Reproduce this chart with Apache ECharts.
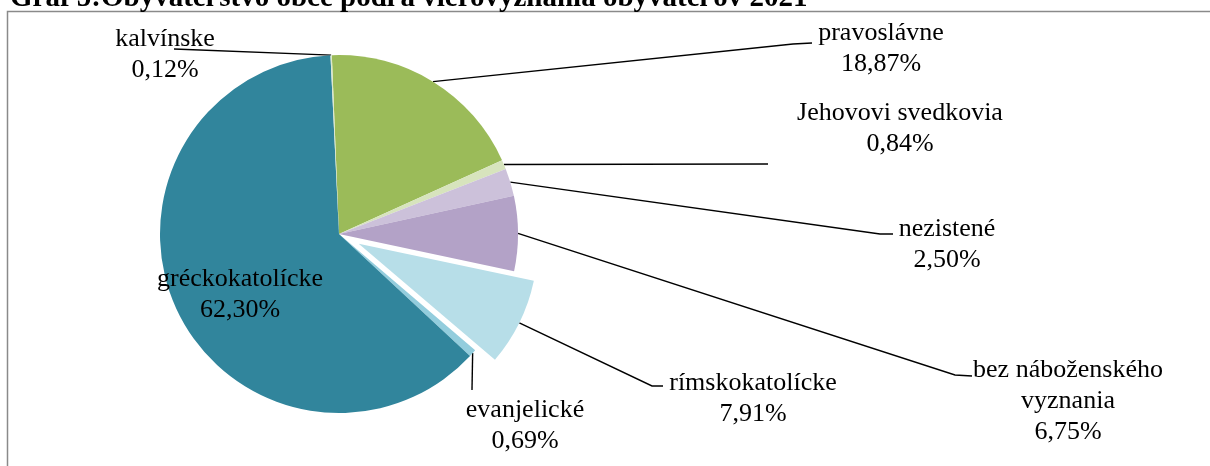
<!DOCTYPE html>
<html><head><meta charset="utf-8">
<script src="https://cdn.jsdelivr.net/npm/echarts@6/dist/echarts.min.js"></script>
<style>html,body{margin:0;padding:0;background:#fff;overflow:hidden}#c{width:1210px;height:466px}</style>
</head><body><div id="c"></div>
<script>
// ---- data ----
const categories = ['pravoslávne','Jehovovi svedkovia','nezistené','bez náboženského vyznania','rímskokatolícke','evanjelické','gréckokatolícke','kalvínske'];
const shares = [18.87, 0.84, 2.50, 6.75, 7.91, 0.69, 62.30, 0.12];
const explodedCategory = 'rímskokatolícke';
const insideCategory = 'gréckokatolícke';
const titleText = 'Graf 5:Obyvateľstvo obce podľa vierovyznania obyvateľov 2021';

// ---- styles / layout ----
const colors = ['#9BBB59','#D7E4BD','#CCC1DA','#B3A2C7','#B7DEE8','#93CDDD','#31859C','#DCE8CB'];
const PIE_CENTER = [339, 234];
const PIE_RADIUS = 179;
const EXPLODE = 22;
// label block centres and leader-line end/knee offsets (relative to label centre)
const labelLayoutSpec = [
  {cx:881,  cy:49,  end:[-69,-6],  knee:[-88,-5]},
  {cx:900,  cy:129, end:[-132,35]},
  {cx:947,  cy:245, end:[-54,-11], knee:[-67,-11]},
  {cx:1068, cy:401, end:[-96,-25], knee:[-113,-26]},
  {cx:753,  cy:399, end:[-90,-13], knee:[-101,-13]},
  {cx:525,  cy:426, end:[-53,-36]},
  {cx:240,  cy:295},
  {cx:165,  cy:55,  end:[9,-6]}
];
const FONT = 'Liberation Serif, Times New Roman, serif';

const chart = echarts.init(document.getElementById('c'), null, {renderer:'canvas'});

// main series: all slices + labels (exploded slice drawn by second series)
const mainData = categories.map((name, i) => {
  const item = {name, value: shares[i],
    itemStyle: {color: name === explodedCategory ? 'rgba(0,0,0,0)' : colors[i]}};
  if (name === insideCategory) item.labelLine = {show:false};
  return item;
});
// exploded slice series
const explodeData = categories.map((name, i) => ({
  name, value: shares[i], selected: name === explodedCategory,
  itemStyle: {color: name === explodedCategory ? colors[i] : 'rgba(0,0,0,0)'}
}));

const common = {
  type: 'pie', center: PIE_CENTER, radius: PIE_RADIUS,
  startAngle: 92.3, clockwise: true, avoidLabelOverlap: false,
  emphasis: {disabled: true}, itemStyle: {borderWidth: 0}
};

chart.setOption({
  animation: false,
  title: {
    text: titleText, left: 5, top: -21,
    textStyle: {fontFamily: FONT, fontWeight: 'bold', fontSize: 29, color: '#000'}
  },
  graphic: [{
    type: 'rect', silent: true, z: -1,
    shape: {x: 7.5, y: 11.5, width: 1400, height: 600},
    style: {fill: 'none', stroke: '#8a8a8a', lineWidth: 1.5}
  }],
  series: [Object.assign({}, common, {
    data: mainData,
    label: {
      show: true, color: '#000', fontFamily: FONT, fontSize: 26, lineHeight: 31, align: 'center',
      formatter: p => p.name.replace(' vyznania', '\nvyznania') + '\n' + p.value.toFixed(2).replace('.', ',') + '%'
    },
    labelLine: {show: true, length: 10, length2: 10, lineStyle: {color: '#000', width: 1.4}},
    labelLayout: function (params) {
      const spec = labelLayoutSpec[params.dataIndex];
      const out = {x: spec.cx, y: spec.cy, align: 'center', verticalAlign: 'middle'};
      if (spec.end && params.labelLinePoints) {
        let a = params.labelLinePoints[0].slice();
        if (categories[params.dataIndex] === explodedCategory) {
          const dx = a[0] - PIE_CENTER[0], dy = a[1] - PIE_CENTER[1];
          const len = Math.sqrt(dx * dx + dy * dy) || 1;
          a = [a[0] + EXPLODE * dx / len, a[1] + EXPLODE * dy / len];
        }
        const end = [spec.cx + spec.end[0], spec.cy + spec.end[1]];
        const knee = spec.knee ? [spec.cx + spec.knee[0], spec.cy + spec.knee[1]] : end.slice();
        out.labelLinePoints = [a, knee, end];
      }
      return out;
    }
  }), Object.assign({}, common, {
    data: explodeData, silent: true,
    selectedMode: 'single', selectedOffset: EXPLODE,
    label: {show: false}, labelLine: {show: false}
  })]
});
</script></body></html>
